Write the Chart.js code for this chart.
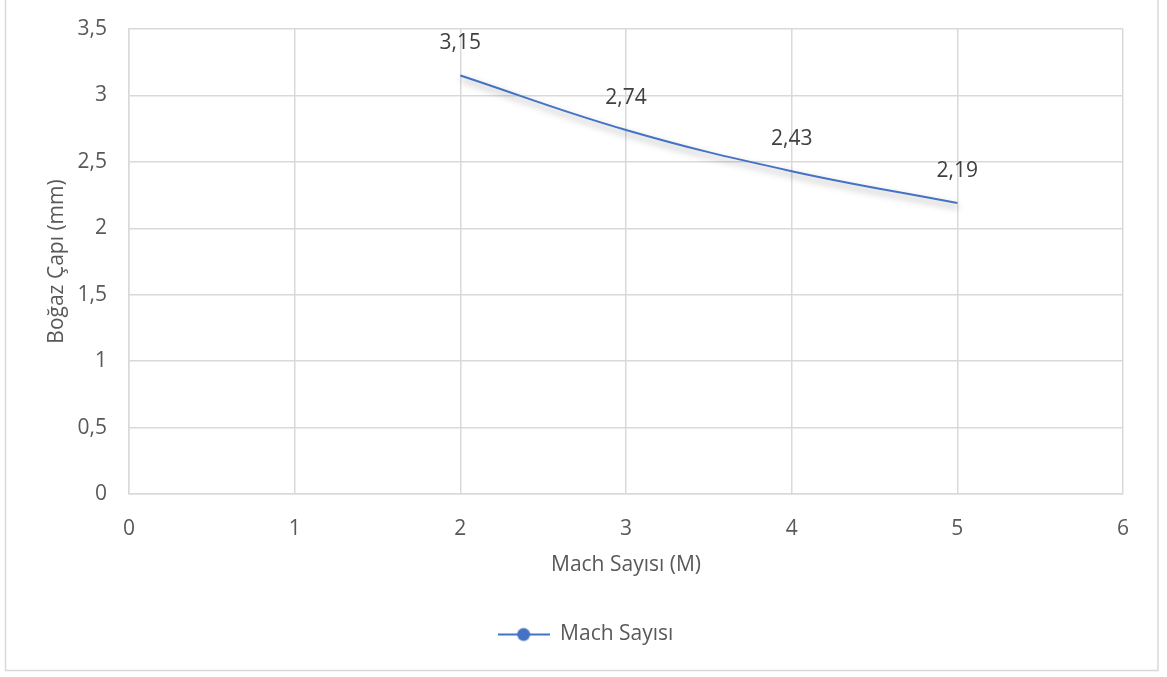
<!DOCTYPE html>
<html>
<head>
<meta charset="utf-8">
<script src="https://cdn.jsdelivr.net/npm/chart.js@4/dist/chart.umd.min.js"></script>
<style>
  html, body { margin: 0; padding: 0; background: #fff; }
  #wrap { width: 1167px; height: 677px; position: relative; }
</style>
</head>
<body>
<div id="wrap"><canvas id="chart" width="1167" height="677"></canvas></div>
<script>
// values
const machValues = [2, 3, 4, 5];
const throatDiameters = [3.15, 2.74, 2.43, 2.19];
const seriesName = "Mach Sayısı";
const xTitle = "Mach Sayısı (M)";
const yTitle = "Boğaz Çapı (mm)";

const blue = "#4472C4";
const gridGray = "#d9d9d9";
const textGray = "#595959";
const fontFamily = "'Open Sans', sans-serif";
const fontSize = 21;

const commaFmt = v => String(v).replace(".", ",");

// legend symbol: short line with a dot in the middle
const legendIcon = document.createElement("canvas");
legendIcon.width = 52;
legendIcon.height = 16;
(() => {
    const c = legendIcon.getContext("2d");
    c.strokeStyle = blue;
    c.lineWidth = 2;
    c.beginPath();
    c.moveTo(0, 8);
    c.lineTo(52, 8);
    c.stroke();
    c.fillStyle = blue;
    c.beginPath();
    c.arc(26, 8, 6.5, 0, Math.PI * 2);
    c.fill();
})();

// white background + outer frame
const framePlugin = {
    id: "frame",
    beforeDraw(chart) {
        const ctx = chart.ctx;
        ctx.save();
        ctx.fillStyle = "#fff";
        ctx.fillRect(0, 0, chart.width, chart.height);
        ctx.strokeStyle = gridGray;
        ctx.lineWidth = 1.5;
        ctx.strokeRect(5.5, -2, 1152.5, 672.5);
        ctx.restore();
    }
};

// soft shadow under the line
const shadowPlugin = {
    id: "lineShadow",
    beforeDatasetsDraw(chart) {
        const ctx = chart.ctx;
        ctx.save();
        ctx.shadowColor = "rgba(0,0,0,0.4)";
        ctx.shadowBlur = 7;
        ctx.shadowOffsetX = 1;
        ctx.shadowOffsetY = 4;
    },
    afterDatasetsDraw(chart) {
        chart.ctx.restore();
    }
};

// value labels above each point
const labelPlugin = {
    id: "valueLabels",
    afterDatasetsDraw(chart) {
        const ctx = chart.ctx;
        const meta = chart.getDatasetMeta(0);
        ctx.save();
        ctx.font = fontSize + "px " + fontFamily;
        ctx.fillStyle = "#404040";
        ctx.textAlign = "center";
        ctx.textBaseline = "middle";
        meta.data.forEach((pt, i) => {
            ctx.fillText(commaFmt(throatDiameters[i]), pt.x, pt.y - 32);
        });
        ctx.restore();
    }
};

new Chart(document.getElementById("chart"), {
    type: "line",
    data: {
        datasets: [{
            label: seriesName,
            data: machValues.map((m, i) => ({ x: m, y: throatDiameters[i] })),
            borderColor: blue,
            backgroundColor: blue,
            borderWidth: 2,
            pointRadius: 0,
            pointHoverRadius: 0,
            tension: 0.4,
            fill: false
        }]
    },
    options: {
        responsive: false,
        animation: false,
        events: [],
        layout: { padding: { left: 48, top: 29, right: 44, bottom: 22 } },
        scales: {
            x: {
                type: "linear",
                min: 0,
                max: 6,
                afterFit(scale) { scale.height = 111; },
                ticks: {
                    stepSize: 1,
                    padding: 22,
                    color: textGray,
                    font: { family: fontFamily, size: fontSize }
                },
                grid: { color: gridGray, lineWidth: 1.5, drawTicks: false },
                border: { color: gridGray, width: 1.5 },
                title: {
                    display: true,
                    text: xTitle,
                    color: textGray,
                    font: { family: fontFamily, size: fontSize },
                    padding: { top: 4, bottom: 27 }
                }
            },
            y: {
                min: 0,
                max: 3.5,
                afterFit(scale) {
                    scale.width = 81;
                    scale.paddingTop = 0;
                },
                ticks: {
                    stepSize: 0.5,
                    padding: 22,
                    color: textGray,
                    font: { family: fontFamily, size: fontSize },
                    callback: v => commaFmt(v)
                },
                grid: { color: gridGray, lineWidth: 1.5, drawTicks: false },
                border: { color: gridGray, width: 1.5 },
                title: {
                    display: true,
                    text: yTitle,
                    color: textGray,
                    font: { family: fontFamily, size: fontSize },
                    padding: { top: -4, bottom: 0 }
                }
            }
        },
        plugins: {
            legend: {
                position: "bottom",
                labels: {
                    usePointStyle: true,
                    pointStyleWidth: 52,
                    padding: 19,
                    color: textGray,
                    font: { family: fontFamily, size: fontSize },
                    generateLabels(chart) {
                        const items = Chart.defaults.plugins.legend.labels.generateLabels(chart);
                        items.forEach(it => { it.pointStyle = legendIcon; });
                        return items;
                    }
                }
            },
            tooltip: { enabled: false }
        }
    },
    plugins: [framePlugin, shadowPlugin, labelPlugin]
});
</script>
</body>
</html>
